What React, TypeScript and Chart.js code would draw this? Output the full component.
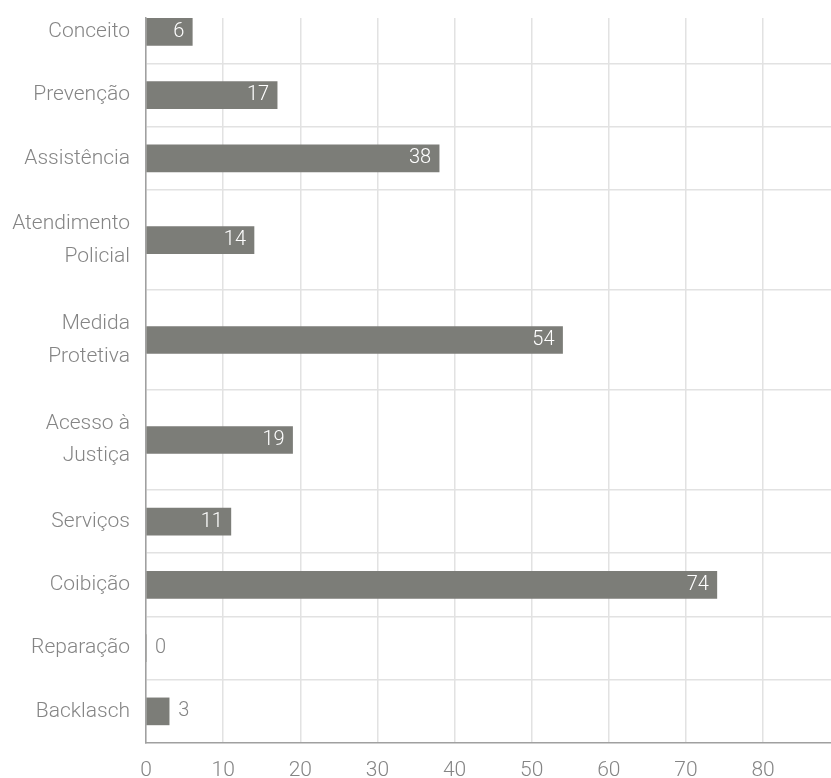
import React, { useEffect, useRef } from "react";
import { Chart, registerables } from "chart.js";

Chart.register(...registerables);

const categories: (string | string[])[] = [
  "Conceito",
  "Prevenção",
  "Assistência",
  ["Atendimento", "Policial"],
  ["Medida", "Protetiva"],
  ["Acesso à", "Justiça"],
  "Serviços",
  "Coibição",
  "Reparação",
  "Backlasch",
];
const values = [6, 17, 38, 14, 54, 19, 11, 74, 0, 3];
const xTicks = [0, 10, 20, 30, 40, 50, 60, 70, 80];
const xMax = 88.8;

// row heights grow with the number of label lines
const rowWeights = categories.map((c) => (Array.isArray(c) ? 1 + (c.length - 1) * 0.58 : 1));
const boundaries: number[] = [0];
rowWeights.forEach((w, i) => boundaries.push(boundaries[i] + w));
const centers = rowWeights.map((w, i) => boundaries[i] + w / 2);
const yTotal = boundaries[boundaries.length - 1];
const yStart = 0.28;
const innerBoundaries = boundaries.slice(1, -1);

const BAR = "#7c7d78";
const TEXT = "#858585";
const GRID = "#e2e2e2";
const AXIS = "#a0a0a0";
const FONT = "Roboto";

const isBoundary = (v: number) => innerBoundaries.some((b) => Math.abs(b - v) < 1e-6);

const valueLabels = {
  id: "valueLabels",
  afterDatasetsDraw(chart: any) {
    const ctx = chart.ctx;
    const meta = chart.getDatasetMeta(0);
    const pad = 8;
    ctx.save();
    ctx.font = `300 20px ${FONT}`;
    ctx.textBaseline = "middle";
    meta.data.forEach((bar: any, i: number) => {
      const { x, y, base } = bar.getProps(["x", "y", "base"], true);
      const text = String(values[i]);
      const tw = ctx.measureText(text).width;
      if (x - base >= tw + 2 * pad) {
        ctx.fillStyle = "#ffffff";
        ctx.textAlign = "right";
        ctx.fillText(text, x - pad, y);
      } else {
        ctx.fillStyle = TEXT;
        ctx.textAlign = "left";
        ctx.fillText(text, x + pad + 1, y);
      }
    });
    ctx.restore();
  },
};

export default function App() {
  const ref = useRef<HTMLCanvasElement>(null);
  useEffect(() => {
    if (!ref.current) return;
    const chart = new Chart(ref.current, {
      type: "bar",
      data: {
        datasets: [
          {
            data: values.map((v, i) => ({ x: v, y: centers[i] })),
            backgroundColor: BAR,
            barThickness: 27,
          } as any,
        ],
      },
      options: {
        indexAxis: "y",
        animation: false,
        responsive: false,
        layout: { padding: { top: 18, left: 0, right: 0, bottom: 0 } },
        plugins: { legend: { display: false }, tooltip: { enabled: false } },
        scales: {
          x: {
            type: "linear",
            min: 0,
            max: xMax,
            afterBuildTicks: (scale: any) => {
              scale.ticks = xTicks.map((v) => ({ value: v }));
            },
            afterFit: (scale: any) => {
              scale.height = 35;
            },
            grid: { color: GRID, lineWidth: 1.5, drawTicks: false },
            border: { display: true, color: AXIS, width: 1.5 },
            ticks: {
              color: TEXT,
              padding: 15,
              font: { family: FONT, size: 21, weight: "300" as any },
              callback: (v: any) => String(v),
            },
          },
          y: {
            type: "linear",
            reverse: true,
            offset: false,
            min: yStart,
            max: yTotal,
            afterBuildTicks: (scale: any) => {
              const all = [...centers, ...innerBoundaries].sort((a, b) => a - b);
              scale.ticks = all.map((v) => ({ value: v }));
            },
            afterFit: (scale: any) => {
              scale.width = 146;
              scale.paddingTop = 0;
              scale.paddingBottom = 0;
            },
            grid: {
              offset: false,
              color: (c: any) => (c.tick && isBoundary(c.tick.value) ? GRID : "rgba(0,0,0,0)"),
              lineWidth: 1.5,
              drawTicks: false,
            },
            border: { display: true, color: AXIS, width: 1.5 },
            ticks: {
              autoSkip: false,
              color: TEXT,
              padding: 16,
              font: { family: FONT, size: 21, weight: "300" as any, lineHeight: 1.55 },
              callback: (v: any) => {
                const i = centers.findIndex((c) => Math.abs(c - v) < 1e-6);
                return i >= 0 ? (categories[i] as any) : "";
              },
            },
          },
        },
      },
      plugins: [valueLabels],
    });
    return () => chart.destroy();
  }, []);
  return (
    <div style={{ position: "absolute", left: 0, top: 0, width: 831, height: 778 }}>
      <canvas ref={ref} width={831} height={778} style={{ display: "block" }} />
    </div>
  );
}
